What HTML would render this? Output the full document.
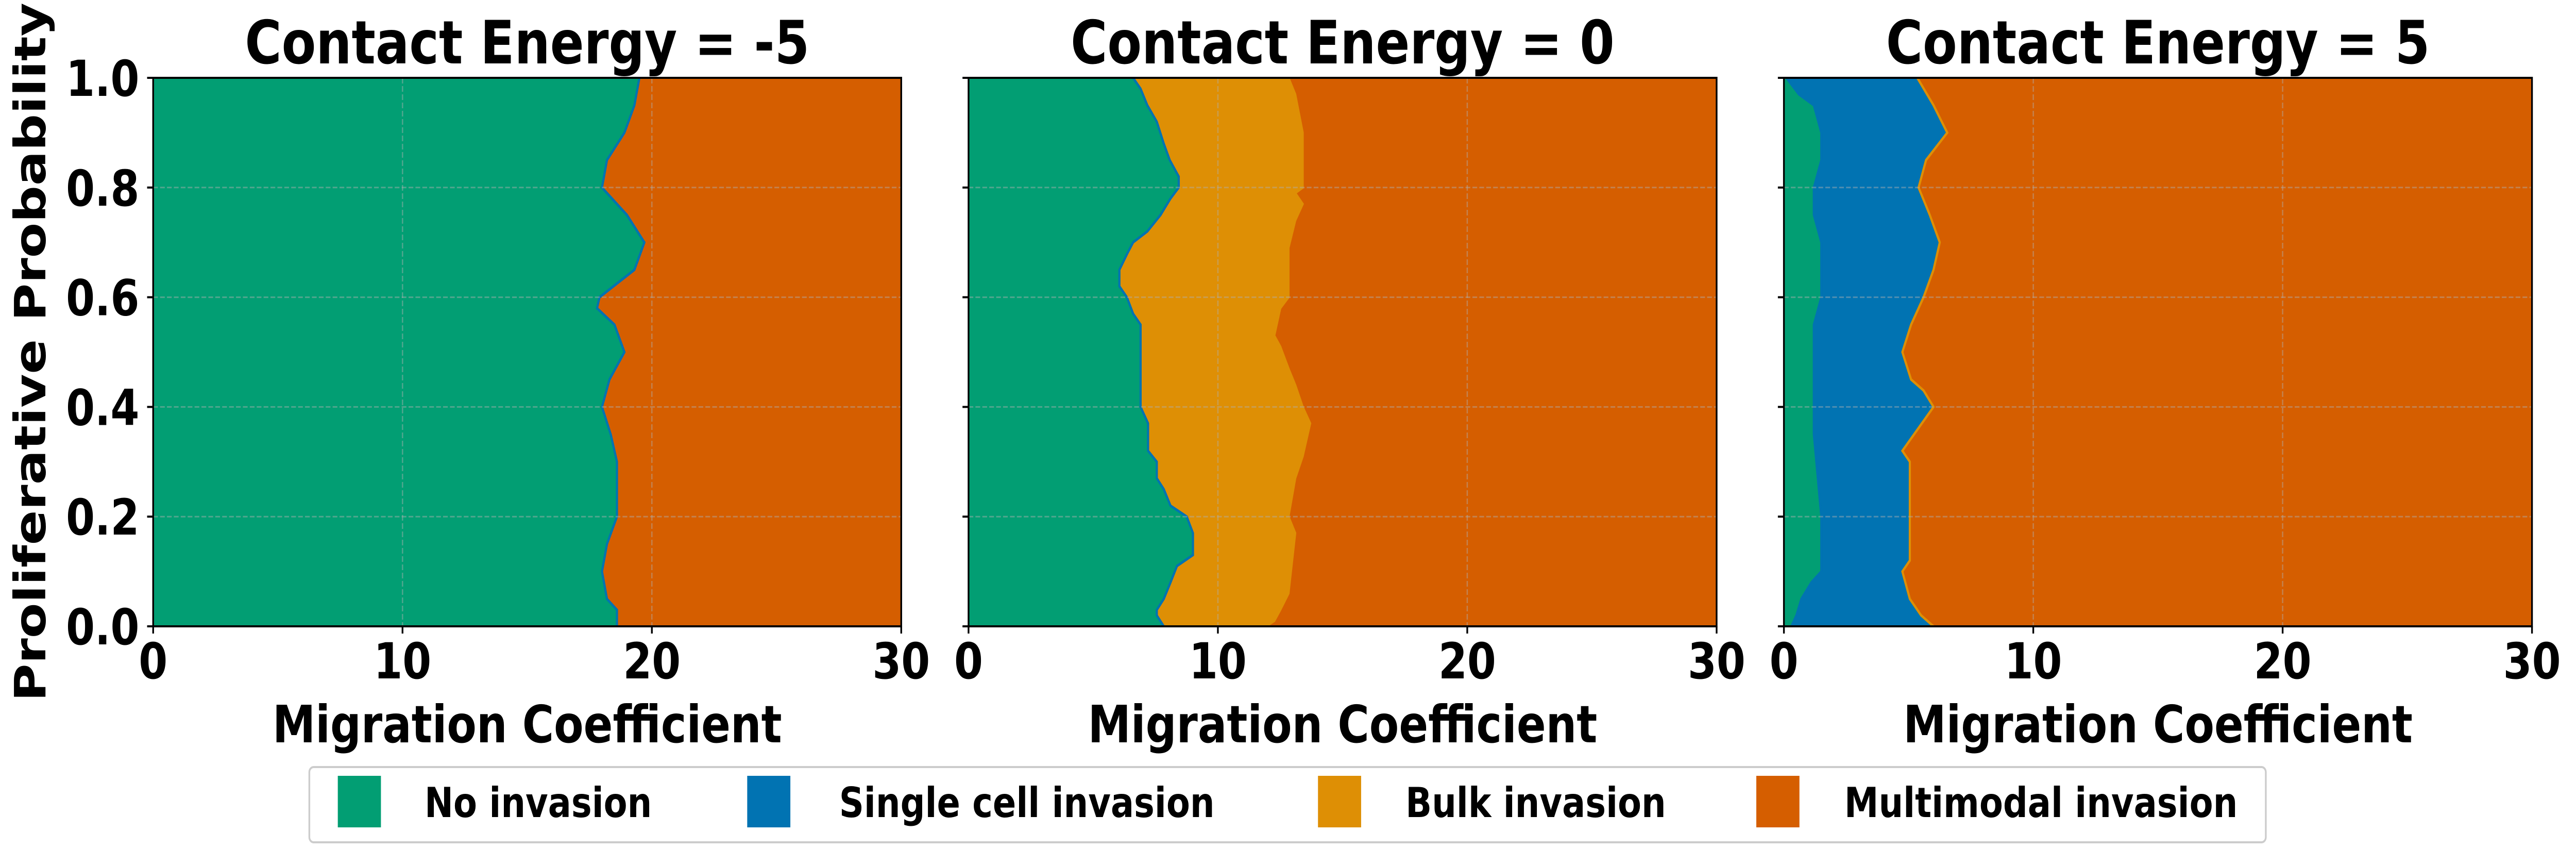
<!DOCTYPE html>
<html><head><meta charset="utf-8"><style>
html,body{margin:0;padding:0;background:#fff;overflow:hidden;width:100%;height:100%}
svg{display:block;width:100vw;height:100vh}
text{font-family:"DejaVu Sans","Liberation Sans",sans-serif;font-weight:bold;fill:#000}
</style></head><body>
<svg id="chart" viewBox="0 0 5971 1678" preserveAspectRatio="none" xmlns="http://www.w3.org/2000/svg"></svg>
<script>
// ---- data ----
const panelTitles = ["Contact Energy = -5", "Contact Energy = 0", "Contact Energy = 5"];
const xTicks = [0, 10, 20, 30];
const yTicks = [0.0, 0.2, 0.4, 0.6, 0.8, 1.0];
const legendLabels = ["No invasion", "Single cell invasion", "Bulk invasion", "Multimodal invasion"];
const colors = ["#029e73", "#0173b2", "#de8f05", "#d55e00"];

// panel 1: no invasion | multimodal
const p1Y = [0,0.03,0.05,0.1,0.15,0.2,0.25,0.3,0.35,0.4,0.45,0.5,0.55,0.58,0.6,0.65,0.7,0.75,0.8,0.85,0.9,0.95,1.0];
const p1NoInv = [18.6,18.6,18.2,18.0,18.2,18.6,18.6,18.6,18.35,18.0,18.3,18.9,18.5,17.8,17.9,19.3,19.7,19.0,18.0,18.2,18.9,19.3,19.5];

// panel 2: no invasion | bulk | multimodal
const p2Y = [0,0.02,0.03,0.05,0.08,0.11,0.13,0.17,0.2,0.22,0.25,0.27,0.3,0.32,0.37,0.4,0.55,0.57,0.6,0.62,0.65,0.68,0.7,0.72,0.75,0.78,0.8,0.82,0.85,0.88,0.92,0.95,0.98,1.0];
const p2NoInv = [7.83,7.55,7.55,7.83,8.1,8.36,9.0,9.0,8.75,8.1,7.83,7.55,7.55,7.2,7.2,6.9,6.9,6.6,6.35,6.05,6.05,6.37,6.6,7.17,7.7,8.1,8.43,8.43,8.07,7.83,7.55,7.17,6.9,6.6];
const p2Y2 = [0,0.01,0.03,0.06,0.17,0.2,0.27,0.31,0.37,0.4,0.44,0.47,0.51,0.53,0.58,0.6,0.69,0.74,0.77,0.79,0.8,0.9,0.97,1.0];
const p2Bulk = [11.93,12.26,12.5,12.83,13.1,12.83,13.1,13.4,13.7,13.4,13.1,12.83,12.5,12.26,12.5,12.83,12.83,13.1,13.4,13.1,13.4,13.4,13.1,12.83];

// panel 3: no invasion | single cell | multimodal
const p3Y = [0,0.02,0.05,0.08,0.1,0.2,0.35,0.4,0.55,0.6,0.7,0.75,0.8,0.85,0.9,0.95,0.97,1.0];
const p3NoInv = [0.3,0.5,0.7,1.1,1.5,1.5,1.2,1.2,1.2,1.5,1.5,1.2,1.2,1.5,1.5,1.2,0.6,0.1];
const p3Y2 = [0,0.02,0.05,0.1,0.12,0.15,0.3,0.32,0.4,0.43,0.45,0.5,0.55,0.6,0.65,0.7,0.75,0.8,0.85,0.9,0.95,1.0];
const p3Single = [6.0,5.5,5.05,4.75,5.05,5.05,5.05,4.75,6.0,5.6,5.1,4.75,5.1,5.6,6.0,6.25,5.85,5.4,5.7,6.55,6.0,5.35];

// ---- layout ----
const NS = "http://www.w3.org/2000/svg";
const svg = document.getElementById("chart");
const panelLefts = [355, 2245, 4135];
const PW = 1734, TOP = 151, BOT = 1215;
function mk(tag, attrs, parent){const e=document.createElementNS(NS,tag);for(const k in attrs)e.setAttribute(k,attrs[k]);(parent||svg).appendChild(e);return e;}
function xs(p,v){return panelLefts[p]+v/30*PW;}
function ys(v){return BOT-v*(BOT-TOP);}

function region(p, rightYs, rightXs, color, name){
  const pts=[xs(p,0)+","+ys(0), xs(p,0)+","+ys(1)];
  const r=[];
  for(let i=0;i<rightYs.length;i++)r.push(xs(p,rightXs[i])+","+ys(rightYs[i]));
  r.reverse();
  const el=mk("polygon",{points:pts.concat(r).join(" "),fill:color,stroke:color,"stroke-width":2});
  
  
  return el;
}

const panelData = [
  {bounds:[[p1Y,p1NoInv,colors[0]]]},
  {bounds:[[p2Y,p2NoInv,colors[0]],[p2Y2,p2Bulk,colors[2]]]},
  {bounds:[[p3Y,p3NoInv,colors[0]],[p3Y2,p3Single,colors[1]]]}
];

for(let p=0;p<3;p++){
  const g=mk("g",{});
  
  
  const bg=mk("rect",{x:xs(p,0),y:TOP,width:PW,height:BOT-TOP,fill:colors[3]},g);
  
  
  const b=panelData[p].bounds;
  for(let i=b.length-1;i>=0;i--){
    const el=region(p,b[i][0],b[i][1],b[i][2],'region-'+i);
    g.appendChild(el);
  }
  for(let i=0;i<b.length;i++){
    const pts=b[i][0].map((yv,j)=>xs(p,b[i][1][j])+","+ys(yv)).join(" ");
    const ln=mk("polyline",{points:pts,fill:"none",stroke:i===0?colors[1]:colors[2],"stroke-width":5},g);
    
    
  }
  xTicks.forEach(t=>{ if(t>0&&t<30){const l=mk("line",{x1:xs(p,t),x2:xs(p,t),y1:TOP,y2:BOT,stroke:"#b0b0b0","stroke-opacity":0.45,"stroke-width":3,"stroke-dasharray":"11,5"},g);
    }});
  yTicks.forEach(t=>{ if(t>0&&t<1){const l=mk("line",{x1:xs(p,0),x2:xs(p,30),y1:ys(t),y2:ys(t),stroke:"#b0b0b0","stroke-opacity":0.45,"stroke-width":3,"stroke-dasharray":"11,5"},g);
    }});
  const fr=mk("rect",{x:xs(p,0),y:TOP,width:PW,height:BOT-TOP,fill:"none",stroke:"#000","stroke-width":4},g);
  
  xTicks.forEach(t=>{
    const l=mk("line",{x1:xs(p,t),x2:xs(p,t),y1:BOT,y2:BOT+14,stroke:"#000","stroke-width":4},g);
    
    const tx=mk("text",{x:xs(p,t),y:1316,"font-size":96,"text-anchor":"middle"},g);
    tx.textContent=t;
    
  });
  yTicks.forEach(t=>{
    const l=mk("line",{x1:xs(p,0)-14,x2:xs(p,0),y1:ys(t),y2:ys(t),stroke:"#000","stroke-width":4},g);
    
    if(p===0){
      const tx=mk("text",{x:323,y:ys(t)+35,"font-size":96,"text-anchor":"end"},g);
      tx.textContent=t.toFixed(1);
      
    }
  });
  const ti=mk("text",{x:xs(p,15),y:123,"font-size":116,"text-anchor":"middle"},g);
  ti.textContent=panelTitles[p];
  
  const xl=mk("text",{x:xs(p,15),y:1440,"font-size":100,"text-anchor":"middle"},g);
  xl.textContent="Migration Coefficient";
  
}
const yl=mk("text",{x:0,y:0,"font-size":100,"text-anchor":"middle",transform:"translate(105,683) rotate(-90)"});
yl.textContent="Proliferative Probability";


const lg=mk("g",{});

const lb=mk("rect",{x:717,y:1488,width:4535,height:146,rx:10,fill:"#fff",stroke:"#cccccc","stroke-width":4},lg);

const patchX=[783,1732,3055,4071];
const textX=[984,1945,3258,4275];
legendLabels.forEach((lab,i)=>{
  const r=mk("rect",{x:patchX[i],y:1505,width:100,height:100,fill:colors[i]},lg);
  
  const t=mk("text",{x:textX[i],y:1585,"font-size":80},lg);
  t.textContent=lab;
  
});
</script>
</body></html>
